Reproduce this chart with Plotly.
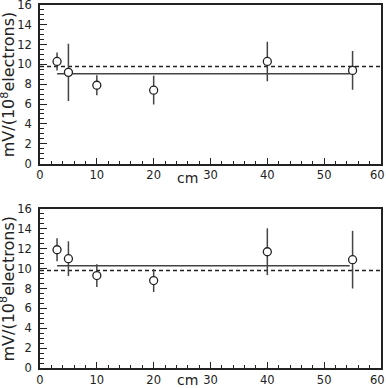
import plotly.graph_objects as go

# ---- data ----
x_cm = [3, 5, 10, 20, 40, 55]

top_vals = [10.3, 9.2, 7.9, 7.4, 10.3, 9.4]
top_errs = [0.9, 2.9, 1.0, 1.45, 2.0, 1.95]
top_fit = 9.05

bot_vals = [11.9, 11.0, 9.3, 8.8, 11.7, 10.9]
bot_errs = [1.15, 1.75, 1.15, 1.15, 2.35, 2.9]
bot_fit = 10.3

ref_level = 9.8
fit_range = [3, 54.5]
ref_range = [0, 60]

x_ticks = [0, 10, 20, 30, 40, 50, 60]
x_tick_text = ["0", "10", "20", "30", "40", "50", "60\u00a0\u00a0"]
y_ticks = [0, 2, 4, 6, 8, 10, 12, 14, 16]

W, H = 386, 388
FONT = "DejaVu Sans, Verdana, sans-serif"
INK = "#222222"

fig = go.Figure()

def add_panel(vals, errs, fit, xa, ya):
    fig.add_trace(go.Scatter(x=ref_range, y=[ref_level, ref_level], mode="lines",
                             line=dict(color=INK, width=1.5, dash="4px,3px"),
                             xaxis=xa, yaxis=ya, showlegend=False, hoverinfo="skip"))
    fig.add_trace(go.Scatter(x=fit_range, y=[fit, fit], mode="lines",
                             line=dict(color="#444444", width=1.5),
                             xaxis=xa, yaxis=ya, showlegend=False, hoverinfo="skip"))
    fig.add_trace(go.Scatter(x=x_cm, y=vals, mode="markers",
                             error_y=dict(type="data", array=errs, visible=True,
                                          color="#444444", thickness=1.5, width=0),
                             marker=dict(symbol="circle", size=8, color="white",
                                         line=dict(color=INK, width=1.3)),
                             xaxis=xa, yaxis=ya, showlegend=False))

add_panel(top_vals, top_errs, top_fit, "x", "y")
add_panel(bot_vals, bot_errs, bot_fit, "x2", "y2")

def px_x(p):
    return p / W

def px_y(p):
    return 1 - p / H

xdom = [px_x(40), px_x(381)]
top_dom = [px_y(163.5), px_y(5)]
bot_dom = [px_y(368), px_y(209)]

xaxis_common = dict(range=[0, 60], tickvals=x_ticks, ticktext=x_tick_text,
                    ticks="inside", ticklen=6,
                    tickwidth=1, tickcolor=INK, showline=True, linecolor=INK,
                    linewidth=1.5, mirror=True, showgrid=False, zeroline=False,
                    tickfont=dict(family=FONT, size=11.5, color=INK),
                    ticklabeloverflow="allow",
                    minor=dict(dtick=2, ticks="inside", ticklen=3, tickcolor=INK),
                    domain=xdom, fixedrange=True)
yaxis_common = dict(range=[0, 16], tickvals=y_ticks, ticks="inside", ticklen=7,
                    tickwidth=1, tickcolor=INK, showline=True, linecolor=INK,
                    linewidth=1.5, mirror=True, showgrid=False, zeroline=False,
                    tickfont=dict(family=FONT, size=11.5, color=INK),
                    ticklabeloverflow="allow", ticklabelstandoff=4,
                    minor=dict(dtick=0.5, ticks="inside", ticklen=4, tickcolor=INK),
                    fixedrange=True)

fig.update_layout(
    width=W, height=H,
    margin=dict(l=0, r=0, t=0, b=0, autoexpand=False),
    paper_bgcolor="white", plot_bgcolor="white",
    xaxis=dict(xaxis_common, anchor="y"),
    yaxis=dict(yaxis_common, domain=top_dom, anchor="x"),
    xaxis2=dict(xaxis_common, anchor="y2"),
    yaxis2=dict(yaxis_common, domain=bot_dom, anchor="x2"),
)

ytitle = "mV/(10<sup>8</sup>electrons)"
for ycen, xlab_bottom in [((5 + 163.5) / 2, 188), ((209 + 368) / 2, 390)]:
    fig.add_annotation(text=ytitle, xref="paper", yref="paper",
                       x=px_x(8), y=px_y(ycen), textangle=-90, showarrow=False,
                       font=dict(family=FONT, size=16, color=INK),
                       xanchor="center", yanchor="middle")
    fig.add_annotation(text="cm", xref="paper", yref="paper",
                       x=px_x(187), y=0, yshift=H - xlab_bottom,
                       showarrow=False,
                       font=dict(family=FONT, size=14, color=INK),
                       xanchor="center", yanchor="bottom")

fig.write_html("out.html", config={"displayModeBar": False},
               post_script="document.body.style.margin='0';document.body.style.overflow='hidden';")
